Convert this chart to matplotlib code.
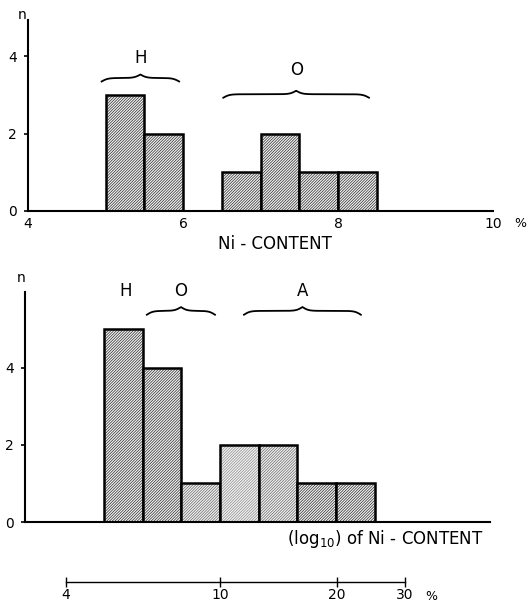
import numpy as np
import matplotlib
matplotlib.use("Agg")
import matplotlib.pyplot as plt

plt.rcParams['font.family'] = ['DejaVu Sans']
plt.rcParams['hatch.linewidth'] = 0.5

# ---- data ----
# top: Ni-content (%), bins of 0.5 %
top_edges = [5.0, 5.5, 6.0, 6.5, 7.0, 7.5, 8.0, 8.5]
top_counts = [3, 2, 0, 1, 2, 1, 1]
top_groups = ["H", "O"]
top_group_spans = [(4.95, 5.95), (6.52, 8.40)]

# bottom: log10 of Ni-content, bins of 0.1
log_edges = [0.7, 0.8, 0.9, 1.0, 1.1, 1.2, 1.3, 1.4]
log_counts = [5, 4, 1, 2, 2, 1, 1]
log_groups = ["O", "A"]
log_group_spans = [(0.811, 0.987), (1.062, 1.364)]
log_h_label = 0.755

pct_ticks = [4, 10, 20, 30]

W, H = 532, 602
fig = plt.figure(figsize=(W / 100, H / 100), dpi=100)


def px_axes(left, right, top, bottom):
    return fig.add_axes([left / W, 1 - bottom / H, (right - left) / W, (bottom - top) / H])


def brace(ax, x0, x1, y, depth, beta):
    """curly bracket drawn in data coords, cusp pointing up"""
    xs = np.linspace(x0, x1, 401)
    half = xs[:201]
    yh = 1 / (1 + np.exp(-beta * (half - half[0]))) + 1 / (1 + np.exp(-beta * (half - half[-1])))
    yy = np.concatenate((yh, yh[-2::-1]))
    ax.plot(xs, y + (yy - 1) * depth, color='black', lw=1.3, clip_on=False)


def hist_bars(ax, edges, counts, tones):
    edges = np.asarray(edges)
    lefts, widths = edges[:-1], np.diff(edges)
    for l, w, c, t in zip(lefts, widths, counts, tones):
        if c == 0:
            continue
        ax.bar(l, c, width=w, align='edge', facecolor='#f2f2f2', edgecolor=t,
               hatch='////////////', linewidth=0)
        ax.bar(l, c, width=w, align='edge', fill=False, edgecolor='black', linewidth=1.8)


def style_axes(ax):
    for s in ['top', 'right']:
        ax.spines[s].set_visible(False)
    ax.spines['left'].set_linewidth(1.5)
    ax.spines['bottom'].set_linewidth(1.5)
    ax.set_yticks([0, 2, 4])
    ax.tick_params(axis='y', direction='out', length=3, width=1.2, labelsize=10, pad=5)


# ---- top panel ----
ax1 = px_axes(28, 493, 20, 211)
hist_bars(ax1, top_edges, top_counts, ['#2a2a2a'] * len(top_counts))
ax1.set_xlim(4, 10)
ax1.set_ylim(0, 4.94)
style_axes(ax1)
ax1.set_xticks([4, 6, 8, 10])
ax1.tick_params(axis='x', length=0, labelsize=10, pad=4)
ax1.text(10.35, -0.32, "%", fontsize=9, ha='center', va='center')
fig.text(22 / W, 1 - 15 / H, "n", fontsize=10, ha='center', va='center')
label_y = [3.95, 3.64]
brace_y = [3.44, 3.02]
for g, (a, b), ly, by in zip(top_groups, top_group_spans, label_y, brace_y):
    brace(ax1, a, b, by, 0.18, 25)
    ax1.text((a + b) / 2, ly, g, fontsize=12, ha='center', va='center')
fig.text(275 / W, 1 - 244 / H, "Ni - CONTENT", fontsize=12, ha='center', va='center')

# ---- bottom panel ----
x_lo = np.log10(4) - 41 / 387
x_hi = np.log10(4) + 424 / 387
ax2 = px_axes(25, 490, 292, 522)
tones = ['#2a2a2a', '#2a2a2a', '#666666', '#8c8c8c', '#666666', '#2a2a2a', '#2a2a2a']
hist_bars(ax2, log_edges, log_counts, tones)
ax2.set_xlim(x_lo, x_hi)
ax2.set_ylim(0, 5.97)
style_axes(ax2)
ax2.set_xticks([])
fig.text(21 / W, 1 - 278 / H, "n", fontsize=10, ha='center', va='center')
ax2.text(log_h_label, 6.0, "H", fontsize=12, ha='center', va='center')
for g, (a, b) in zip(log_groups, log_group_spans):
    brace(ax2, a, b, 5.48, 0.2, 129)
    ax2.text((a + b) / 2, 6.0, g, fontsize=12, ha='center', va='center')
fig.text(483 / W, 1 - 539 / H, "(log$_{10}$) of Ni - CONTENT", fontsize=12, ha='right', va='center')

# ---- percent scale under the log axis ----
ax3 = px_axes(25, 490, 570, 582)
ax3.set_xlim(x_lo, x_hi)
ax3.set_ylim(0, 1)
for s in ['top', 'right', 'left']:
    ax3.spines[s].set_visible(False)
ax3.spines['bottom'].set_bounds(np.log10(pct_ticks[0]), np.log10(pct_ticks[-1]))
ax3.spines['bottom'].set_linewidth(1.0)
ax3.set_yticks([])
ax3.set_xticks(np.log10(pct_ticks))
ax3.set_xticklabels([str(t) for t in pct_ticks])
ax3.tick_params(axis='x', direction='inout', length=7, width=1.0, labelsize=10, pad=1)
ax3.text(np.log10(30) + 0.07, -1.25, "%", fontsize=9, ha='center', va='center')
ax3.patch.set_visible(False)

fig.savefig("out.png", dpi=100)
